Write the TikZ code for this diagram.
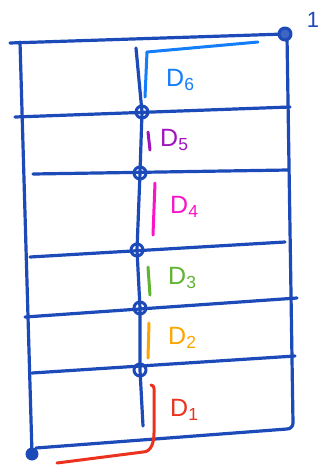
\documentclass[tikz,border=0pt]{standalone}
\usepackage{fontspec}
\setmainfont{Liberation Sans}
\definecolor{inkblue}{RGB}{28,74,184}
\definecolor{dsix}{RGB}{20,125,250}
\definecolor{dfive}{RGB}{160,20,190}
\definecolor{dfour}{RGB}{250,20,200}
\definecolor{dthree}{RGB}{95,180,50}
\definecolor{dtwo}{RGB}{255,165,0}
\definecolor{done}{RGB}{235,50,30}
\begin{document}
\begin{tikzpicture}[x=1pt, y=-1pt, line cap=round, line join=round,
    wall/.style={draw=inkblue, line width=3.2pt},
    junction/.style={circle, draw=inkblue, line width=3pt, inner sep=0pt, minimum size=12pt},
    bar/.style={line width=3pt},
    lbl/.style={font=\fontsize{25}{27}\selectfont, anchor=west, inner sep=0pt}]
    \useasboundingbox (0,0) rectangle (320,467);

    % Marco exterior
    \coordinate (tl) at (10,43);
    \coordinate (tr) at (285,34);
    \coordinate (bl) at (32,454);
    \coordinate (br) at (293,427);
    \draw[wall] (tl) -- (tr);
    \draw[wall] (20,42) -- (bl);
    \draw[wall] (287,36) -- (293,423) to[out=270,in=0] (287,429) -- (36,448);
    \node[circle, fill=inkblue, minimum size=13pt, inner sep=0pt] (cbl) at (bl) {};
    \node[junction, fill=inkblue!85] (ctr) at (tr) {};

    % Pisos
    \draw[wall] (15,117) -- (290,107);
    \draw[wall] (33,174) -- (288,170);
    \draw[wall] (30,257) -- (285,242);
    \draw[wall] (25,317) -- (297,298);
    \draw[wall] (32,373) -- (295,356);

    % Columna central y nudos
    \coordinate (ctop) at (136,48);
    \coordinate (j5) at (142,112);
    \coordinate (j4) at (140,173);
    \coordinate (j3) at (137,250);
    \coordinate (j2) at (140,308);
    \coordinate (j1) at (140,370);
    \coordinate (cbot) at (143,426);
    \draw[wall] (ctop) -- (j5) -- (j4) -- (j3) -- (j2) -- (j1) -- (cbot);
    \foreach \n in {j1,j2,j3,j4,j5}
        \node[junction] at (\n) {};

    % Tramos D1 ... D6
    \draw[bar, dsix] (145,97) -- (147,52) -- (258,42);
    \node[lbl, dsix] (d6) at (166,80) {D\textsubscript{6}};
    \draw[bar, dfive] (148,132) -- (150,150);
    \node[lbl, dfive] (d5) at (160,140) {D\textsubscript{5}};
    \draw[bar, dfour] (155,183) -- (153,235);
    \node[lbl, dfour] (d4) at (170,207) {D\textsubscript{4}};
    \draw[bar, dthree] (148,267) -- (150,295);
    \node[lbl, dthree] (d3) at (168,278) {D\textsubscript{3}};
    \draw[bar, dtwo] (149,323) -- (148,358);
    \node[lbl, dtwo] (d2) at (168,338) {D\textsubscript{2}};
    \draw[bar, done] (151,385) to[out=0,in=90] (154,395) -- (154,433) to[out=270,in=0] (143,452) -- (57,463);
    \node[lbl, done] (d1) at (170,410) {D\textsubscript{1}};

    % Marca superior
    \node[font=\fontsize{22}{24}\selectfont, inkblue] (uno) at (313,20) {1};
\end{tikzpicture}
\end{document}
